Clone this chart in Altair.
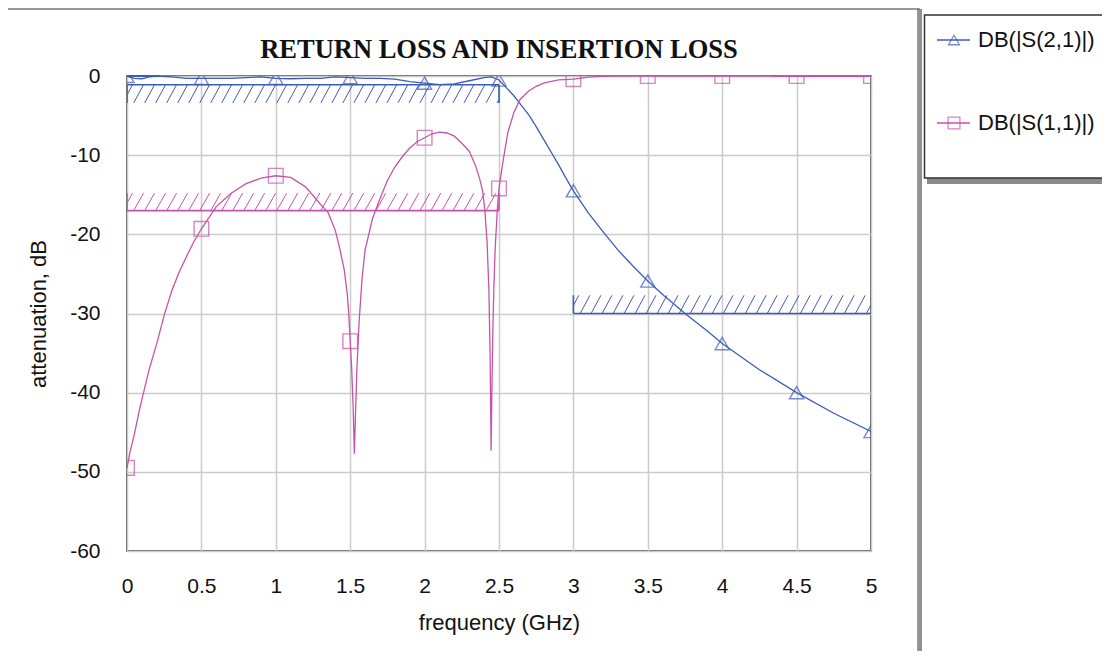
import altair as alt
import pandas as pd

# ---------------- data ----------------
series_names = ["DB(|S(2,1)|)", "DB(|S(1,1)|)"]
series_colors = ["#3d5cb8", "#c653a9"]
chart_title = "RETURN LOSS AND INSERTION LOSS"
x_title = "frequency (GHz)"
y_title = "attenuation, dB"

s21_f = [0.0, 0.05, 0.1, 0.15, 0.2, 0.3, 0.4, 0.5, 0.6, 0.7, 0.8, 0.9, 1.0, 1.1, 1.2,
         1.3, 1.4, 1.5, 1.6, 1.7, 1.8, 1.9, 2.0, 2.1, 2.2, 2.3, 2.4, 2.45, 2.5, 2.55,
         2.6, 2.65, 2.7, 2.75, 2.8, 2.85, 2.9, 2.95, 3.0, 3.1, 3.2, 3.3, 3.4, 3.5, 3.6,
         3.75, 3.9, 4.0, 4.25, 4.5, 4.75, 5.0]
s21_db = [-0.05, -0.3, -0.35, -0.1, -0.02, -0.1, -0.3, -0.3, -0.3, -0.3, -0.2, -0.1, -0.3, -0.35, -0.3,
          -0.3, -0.1, -0.2, -0.3, -0.3, -0.4, -0.7, -0.9, -1.1, -1.0, -0.6, -0.2, -0.1, -0.5, -1.5,
          -2.5, -3.7, -4.9, -6.4, -8.0, -9.6, -11.2, -12.9, -14.5, -17.3, -19.7, -22.0, -24.0, -25.9, -27.6,
          -30.0, -32.2, -33.8, -37.1, -40.0, -42.6, -44.9]

s11_f = [0.0, 0.02, 0.05, 0.08, 0.11, 0.15, 0.2, 0.25, 0.3, 0.35, 0.4, 0.45, 0.5, 0.6, 0.7,
         0.8, 0.9, 1.0, 1.1, 1.2, 1.25, 1.3, 1.35, 1.4, 1.43, 1.46, 1.48, 1.49, 1.5, 1.51,
         1.52, 1.528, 1.535, 1.545, 1.56, 1.58, 1.6, 1.65, 1.7, 1.75, 1.8, 1.85, 1.9, 1.95, 2.0,
         2.05, 2.1, 2.15, 2.2, 2.25, 2.3, 2.34, 2.37, 2.39, 2.405, 2.42, 2.432, 2.44, 2.447, 2.452,
         2.458, 2.465, 2.475, 2.49, 2.5, 2.52, 2.54, 2.56, 2.6, 2.64, 2.7, 2.75, 2.8, 2.9, 3.0,
         3.1, 3.2, 3.3, 3.5, 4.0, 4.5, 5.0]
s11_db = [-49.5, -47.5, -45.2, -42.5, -40.1, -37.0, -33.8, -30.2, -27.2, -24.8, -22.8, -20.9, -19.3, -16.5, -14.8,
          -13.6, -12.9, -12.6, -12.8, -14.0, -15.1, -16.2, -17.2, -19.5, -21.8, -24.5, -27.5, -30.0, -33.5, -37.0,
          -42.0, -47.7, -43.0, -37.0, -31.0, -25.5, -22.0, -18.0, -15.5, -13.2, -11.5, -10.2, -9.1, -8.3, -7.8,
          -7.3, -7.1, -7.2, -7.6, -8.5, -9.5, -11.2, -13.0, -14.5, -17.0, -21.0, -27.0, -35.0, -47.3, -40.0,
          -33.0, -27.0, -21.5, -16.5, -14.2, -11.6, -9.3, -7.1, -4.6, -3.0, -1.9, -1.3, -0.9, -0.5, -0.4,
          -0.15, -0.05, 0.0, 0.0, 0.0, 0.0, 0.0]

marker_f = [0.0, 0.5, 1.0, 1.5, 2.0, 2.5, 3.0, 3.5, 4.0, 4.5, 5.0]

x_ticks = [0.0, 0.5, 1.0, 1.5, 2.0, 2.5, 3.0, 3.5, 4.0, 4.5, 5.0]
y_ticks = [-60, -50, -40, -30, -20, -10, 0]

# specification masks (hatched limit lines)
mask_f0 = [0.0, 0.0, 3.0]
mask_f1 = [2.5, 2.5, 5.0]
mask_level = [-1.1, -17.0, -30.0]
mask_edge = [-3.4, -14.8, -27.7]
mask_series = [0, 1, 0]
mask_walls = [[0.0, 2.5], [0.0, 2.5], [3.0]]

# top border segments that are covered by the traces
top_f0 = [0.0, 4.33]
top_f1 = [0.22, 5.0]
top_series = [0, 1]

HATCH_STEP = 0.074
HATCH_DX = 0.066

# ---------------- layout ----------------
W, H = 744, 475
PAD_L, PAD_T = 119, 68
PAD_R = 1110 - 16 - PAD_L - W
PAD_B = 659 - 16 - PAD_T - H
FONT = "Liberation Sans"

# ---------------- tables ----------------
df21 = pd.DataFrame({"f": s21_f, "db": s21_db})
df11 = pd.DataFrame({"f": s11_f, "db": s11_db})
m21 = df21[df21["f"].isin(marker_f)]
m11 = df11[df11["f"].isin(marker_f)]

rows = []
for i in range(len(mask_f0)):
    f0, f1, lv, ed = mask_f0[i], mask_f1[i], mask_level[i], mask_edge[i]
    col = series_colors[mask_series[i]]
    rows.append(dict(a=f0, b=f1, c=lv, d=lv, col=col, w=1.6))
    for fw in mask_walls[i]:
        rows.append(dict(a=fw, b=fw, c=lv, d=ed, col=col, w=1.6))
    lo, hi = min(lv, ed), max(lv, ed)
    xs = f0 - HATCH_DX + HATCH_STEP * 0.5
    while xs < f1:
        xa, ya, xb, yb = xs, lo, xs + HATCH_DX, hi
        if xa < f0:
            t = (f0 - xa) / (xb - xa)
            ya = lo + t * (hi - lo)
            xa = f0
        if xb > f1:
            t = (xs + HATCH_DX - f1) / HATCH_DX
            yb = hi - t * (hi - lo)
            xb = f1
        if xb > xa:
            rows.append(dict(a=xa, b=xb, c=ya, d=yb, col=col, w=1.0))
        xs += HATCH_STEP
hatch = pd.DataFrame(rows)

top_df = pd.DataFrame({"a": top_f0, "b": top_f1, "c": [0.0] * len(top_f0),
                       "col": [series_colors[k] for k in top_series]})

xscale = alt.Scale(domain=[0, 5], nice=False, zero=False)
yscale = alt.Scale(domain=[-60, 0], nice=False, zero=False)

xaxis = alt.Axis(values=x_ticks, format="~g", grid=True, ticks=False, domain=False,
                 labelFont=FONT, labelFontSize=21, labelColor="#111", labelPadding=24,
                 labelFlush=False, title=x_title, titleFont=FONT, titleFontSize=22,
                 titleFontWeight="normal", titleColor="#111", titleX=W / 2, titleY=71,
                 titleBaseline="middle", titleAlign="center")
yaxis = alt.Axis(values=y_ticks, labelExpr="'' + datum.value", grid=True, ticks=False,
                 domain=False, labelFont=FONT, labelFontSize=21, labelColor="#111",
                 labelPadding=27, title=y_title, titleFont=FONT, titleFontSize=22,
                 titleFontWeight="normal", titleColor="#111", titleX=-89, titleY=H / 2,
                 titleBaseline="middle", titleAlign="center", titleAngle=270)


def X(field):
    return alt.X(field, type="quantitative", scale=xscale, axis=xaxis, title=x_title)


def Y(field):
    return alt.Y(field, type="quantitative", scale=yscale, axis=yaxis, title=y_title)


hatch_layer = alt.Chart(hatch).mark_rule(clip=True).encode(
    x=X("a"), x2="b", y=Y("c"), y2="d",
    color=alt.Color("col:N", scale=None), strokeWidth=alt.StrokeWidth("w:Q", scale=None))

line21 = alt.Chart(df21).mark_line(color=series_colors[0], strokeWidth=1.3, clip=True).encode(
    x=X("f"), y=Y("db"))
line11 = alt.Chart(df11).mark_line(color=series_colors[1], strokeWidth=1.3, clip=True).encode(
    x=X("f"), y=Y("db"))
pts21 = alt.Chart(m21).mark_point(shape="triangle-up", size=200, filled=False,
                                  color=series_colors[0], strokeWidth=1.4, clip=True).encode(
    x=X("f"), y=Y("db"))
pts11 = alt.Chart(m11).mark_point(shape="square", size=215, filled=False,
                                  color=series_colors[1], strokeWidth=1.4, clip=True).encode(
    x=X("f"), y=Y("db"))
top_layer = alt.Chart(top_df).mark_rule(strokeWidth=2).encode(
    x=X("a"), x2="b", y=Y("c"), color=alt.Color("col:N", scale=None))

one = pd.DataFrame({"k": [0]})

# outer frame around the graph
frame_top = alt.Chart(one).mark_rule(color="#333", strokeWidth=1.2).encode(
    x=alt.value(-124), x2=alt.value(793), y=alt.value(-67))
frame_left_a = alt.Chart(one).mark_rule(color="#a8a8a8", strokeWidth=3).encode(
    x=alt.value(-122.5), y=alt.value(-67), y2=alt.value(590))
frame_left_b = alt.Chart(one).mark_rule(color="#555", strokeWidth=1).encode(
    x=alt.value(-120.5), y=alt.value(-67), y2=alt.value(590))
frame_right_a = alt.Chart(one).mark_rule(color="#333", strokeWidth=1).encode(
    x=alt.value(791), y=alt.value(-67), y2=alt.value(590))
frame_right_b = alt.Chart(one).mark_rule(color="#909090", strokeWidth=3).encode(
    x=alt.value(793.5), y=alt.value(-67), y2=alt.value(590))

# legend box
leg_shadow = alt.Chart(one).mark_rect(color="#8a8a8a").encode(
    x=alt.value(800), x2=alt.value(1000), y=alt.value(-56), y2=alt.value(108))
leg_box = alt.Chart(one).mark_rect(fill="white", stroke="#333", strokeWidth=1.5).encode(
    x=alt.value(797.5), x2=alt.value(1000), y=alt.value(-61), y2=alt.value(102))
leg_layers = []
for k, yv in enumerate([-36, 47]):
    leg_layers.append(alt.Chart(one).mark_rule(color=series_colors[k], strokeWidth=1.3).encode(
        x=alt.value(810), x2=alt.value(843), y=alt.value(yv)))
    leg_layers.append(alt.Chart(one).mark_point(
        shape="triangle-up" if k == 0 else "square", size=120 if k == 0 else 140,
        filled=False, color=series_colors[k], strokeWidth=1.3).encode(
        x=alt.value(827), y=alt.value(yv)))
    leg_layers.append(alt.Chart(one).mark_text(
        align="left", baseline="middle", font=FONT, fontSize=22, color="#111").encode(
        x=alt.value(851), y=alt.value(yv), text=alt.value(series_names[k])))

title_layer = alt.Chart(one).mark_text(
    align="center", baseline="middle", font="Liberation Serif", fontSize=26.5,
    fontWeight="bold", color="#111").encode(
    x=alt.value(W / 2), y=alt.value(-26), text=alt.value(chart_title))

chart = alt.layer(
    hatch_layer, line21, line11, pts21, pts11, top_layer,
    frame_top, frame_left_a, frame_left_b, frame_right_a, frame_right_b,
    leg_shadow, leg_box, *leg_layers, title_layer,
).properties(
    width=W, height=H,
    autosize=alt.AutoSizeParams(type="none"),
    padding={"left": PAD_L, "top": PAD_T, "right": PAD_R, "bottom": PAD_B},
    background="white",
).configure_view(
    stroke="#333", strokeWidth=1.6
).configure_axis(
    gridColor="#cbcbcb", gridWidth=1.5
)

chart.save("out.html", embed_options={"renderer": "svg", "actions": False})
